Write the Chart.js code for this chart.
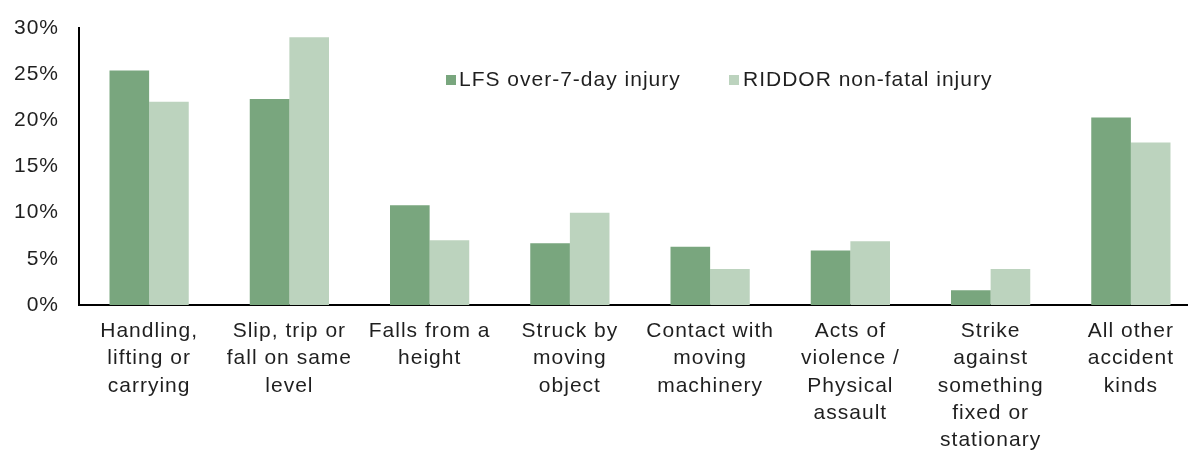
<!DOCTYPE html>
<html>
<head>
<meta charset="utf-8">
<script src="https://cdn.jsdelivr.net/npm/chart.js@4"></script>
<style>
  html, body { margin: 0; padding: 0; background: #fff; overflow: hidden; }
  #wrap { position: relative; width: 1201px; height: 452px; }
</style>
</head>
<body>
<div id="wrap"><canvas id="c"></canvas></div>
<script>
const categories = [
  ["Handling,", "lifting or", "carrying"],
  ["Slip, trip or", "fall on same", "level"],
  ["Falls from a", "height"],
  ["Struck by", "moving", "object"],
  ["Contact with", "moving", "machinery"],
  ["Acts of", "violence /", "Physical", "assault"],
  ["Strike", "against", "something", "fixed or", "stationary"],
  ["All other", "accident", "kinds"]
];
const lfsLabel = "LFS over-7-day injury";
const riddorLabel = "RIDDOR non-fatal injury";
const lfsValues = [25.4, 22.3, 10.8, 6.7, 6.3, 5.9, 1.6, 20.3];
const riddorValues = [22.0, 29.0, 7.0, 10.0, 3.9, 6.9, 3.9, 17.6];
const yTicks = [0, 5, 10, 15, 20, 25, 30];

const FONT = "'Liberation Sans', Arial, sans-serif";
const TEXT = '#1f1f1f';

const spacing = {
  id: 'spacing',
  beforeLayout(chart) { chart.ctx.letterSpacing = '1px'; },
  beforeDraw(chart) { chart.ctx.letterSpacing = '1px'; }
};

const insideLegend = {
  id: 'insideLegend',
  afterDraw(chart) {
    const ctx = chart.ctx;
    const pos = [{sq: 446, tx: 459}, {sq: 729, tx: 743}];
    ctx.save();
    ctx.font = '21px ' + FONT;
    ctx.letterSpacing = '1px';
    ctx.textBaseline = 'middle';
    ctx.textAlign = 'left';
    chart.data.datasets.forEach((ds, i) => {
      ctx.fillStyle = ds.backgroundColor;
      ctx.fillRect(pos[i].sq, 75, 10, 10);
      ctx.fillStyle = TEXT;
      ctx.fillText(ds.label, pos[i].tx, 80);
    });
    ctx.restore();
  }
};

new Chart(document.getElementById('c'), {
  type: 'bar',
  data: {
    labels: categories,
    datasets: [
      { label: lfsLabel, data: lfsValues, backgroundColor: '#79a67e' },
      { label: riddorLabel, data: riddorValues, backgroundColor: '#bcd3be' }
    ]
  },
  options: {
    responsive: true,
    maintainAspectRatio: false,
    animation: false,
    layout: { padding: { top: 28, right: 0, bottom: 0, left: 0 } },
    datasets: { bar: { categoryPercentage: 0.565, barPercentage: 1.0 } },
    plugins: { legend: { display: false }, tooltip: { enabled: false } },
    scales: {
      x: {
        grid: { display: false, drawTicks: false },
        border: { display: true, color: '#000', width: 2 },
        ticks: {
          color: TEXT, padding: 13, maxRotation: 0, autoSkip: false,
          font: { family: FONT, size: 21, lineHeight: 1.29 }
        },
        afterFit(s) { s.height = 147; s.paddingLeft = 0; s.paddingRight = 0; }
      },
      y: {
        min: 0, max: 30,
        afterBuildTicks(s) { s.ticks = yTicks.map(v => ({ value: v })); },
        grid: { display: false, drawTicks: false },
        border: { display: true, color: '#000', width: 2 },
        ticks: {
          color: TEXT, padding: 20,
          font: { family: FONT, size: 21 },
          callback: v => v + '%'
        },
        afterFit(s) { s.width = 79; s.paddingTop = 0; s.paddingBottom = 0; }
      }
    }
  },
  plugins: [spacing, insideLegend]
});
</script>
</body>
</html>
